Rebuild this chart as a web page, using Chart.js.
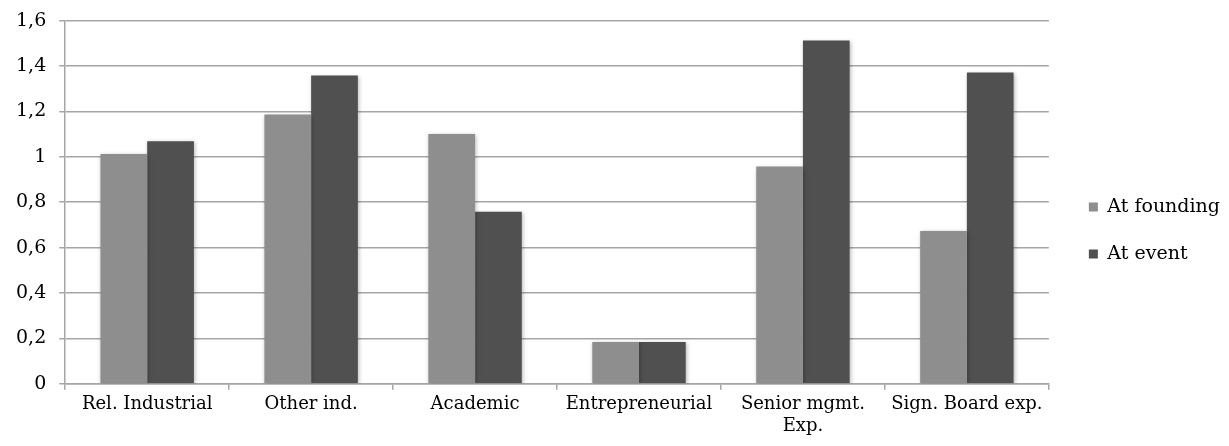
<!DOCTYPE html>
<html>
<head>
<meta charset="utf-8">
<script src="https://cdn.jsdelivr.net/npm/chart.js@4.4.1/dist/chart.umd.min.js"></script>
<style>
  html, body { margin: 0; padding: 0; background: #ffffff; }
  #wrap { position: relative; width: 1229px; height: 446px; }
</style>
</head>
<body>
<div id="wrap"><canvas id="chart" width="1229" height="446"></canvas></div>
<script>
// Experience categories on the x axis (multi-line label as an array)
const categories = [
  'Rel. Industrial',
  'Other ind.',
  'Academic',
  'Entrepreneurial',
  ['Senior mgmt.', 'Exp.'],
  'Sign. Board exp.'
];

// Average experience per category
const atFounding = [1.012, 1.186, 1.100, 0.184, 0.957, 0.673];
const atEvent    = [1.069, 1.358, 0.758, 0.184, 1.512, 1.371];

// Y axis ticks
const yTicks = [0, 0.2, 0.4, 0.6, 0.8, 1, 1.2, 1.4, 1.6];

const FONT = '"DejaVu Serif", "Liberation Serif", serif';

// Soft drop shadow behind the bars
const barShadow = {
  id: 'barShadow',
  beforeDatasetsDraw(chart) {
    const ctx = chart.ctx;
    ctx.save();
    ctx.shadowColor = 'rgba(0,0,0,0.28)';
    ctx.shadowBlur = 4;
    ctx.shadowOffsetX = 1;
    ctx.shadowOffsetY = 1;
  },
  afterDatasetsDraw(chart) {
    chart.ctx.restore();
  }
};

// Push the legend a little further from the plot area and slightly lower
const legendGap = {
  id: 'legendGap',
  afterLayout(chart) {
    const lg = chart.legend;
    if (lg) {
      lg.left += 12; lg.right += 12;
      lg.top += 10; lg.bottom += 10;
    }
  }
};

new Chart(document.getElementById('chart'), {
  type: 'bar',
  data: {
    labels: categories,
    datasets: [
      { label: 'At founding', data: atFounding, backgroundColor: '#8e8e8e', borderWidth: 0 },
      { label: 'At event',    data: atEvent,    backgroundColor: '#505050', borderWidth: 0 }
    ]
  },
  options: {
    responsive: false,
    animation: false,
    layout: { padding: { top: 0, right: 11, left: 3, bottom: 5 } },
    datasets: { bar: { categoryPercentage: 0.57, barPercentage: 1.0 } },
    plugins: {
      legend: {
        position: 'right',
        labels: {
          boxWidth: 9, boxHeight: 9, padding: 28,
          color: '#000000',
          font: { family: FONT, size: 19 }
        }
      },
      tooltip: { enabled: false }
    },
    scales: {
      x: {
        grid: { display: true, drawOnChartArea: false, drawTicks: true, tickLength: 6, color: '#a6a6a6', lineWidth: 1.5, offset: true },
        border: { display: true, color: '#a6a6a6', width: 1.5 },
        ticks: { color: '#000000', padding: 4, maxRotation: 0, autoSkip: false, font: { family: FONT, size: 18 } }
      },
      y: {
        min: 0, max: 1.6,
        afterBuildTicks(scale) { scale.ticks = yTicks.map(v => ({ value: v })); },
        grid: { color: '#a6a6a6', lineWidth: 1.5, drawTicks: true, tickLength: 6 },
        border: { display: true, color: '#a6a6a6', width: 1.5 },
        ticks: {
          color: '#000000', padding: 13,
          font: { family: FONT, size: 19, lineHeight: 0.8 },
          callback: v => String(v).replace('.', ',')
        }
      }
    }
  },
  plugins: [barShadow, legendGap]
});
</script>
</body>
</html>
